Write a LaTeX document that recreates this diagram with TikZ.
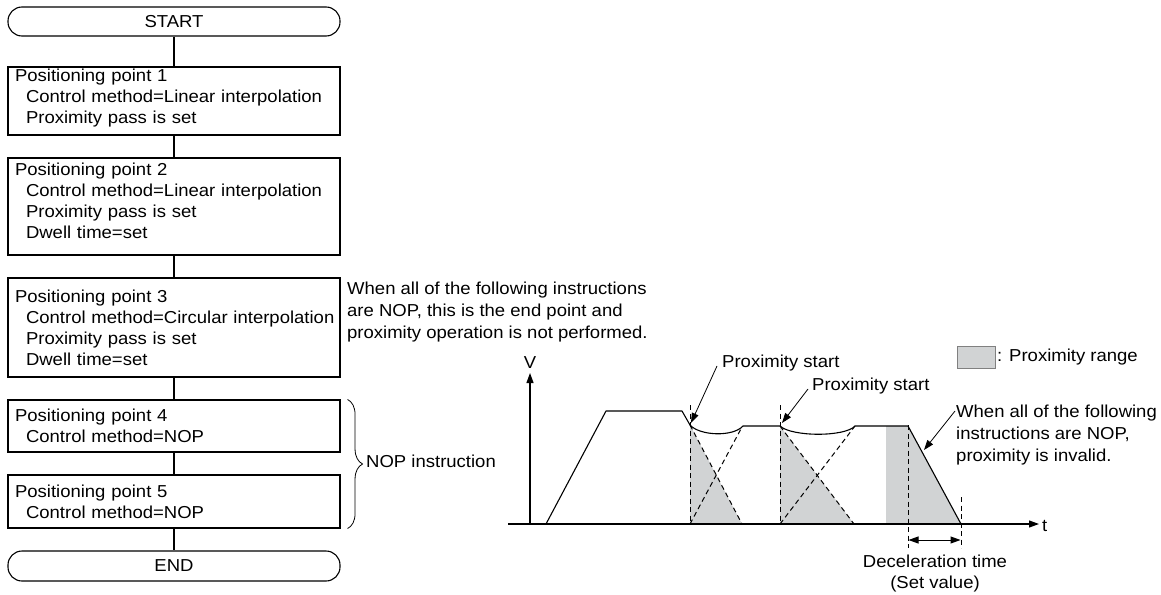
\documentclass[tikz,border=0pt]{standalone}
\usepackage{fontspec}
\setmainfont{Liberation Sans}[FakeStretch=1.07]
\usetikzlibrary{arrows.meta,decorations.pathreplacing}
\definecolor{prox}{RGB}{209,211,212}
\newcommand{\subline}[1]{\hspace*{11pt}\mbox{#1}}
\newcommand{\fsz}{\fontsize{17.3}{21}\selectfont}
\newcommand{\fsa}{\fontsize{17.3}{22}\selectfont}
\begin{document}
\begin{tikzpicture}[x=1pt,y=-1pt,
  every node/.style={font=\fsz},
  box/.style={draw, line width=1.1pt, rectangle, minimum width=332pt, text width=318pt, inner xsep=7pt, inner ysep=0pt, align=left},
  term/.style={draw, line width=1.1pt, rectangle, rounded corners=14pt, minimum width=332pt, inner sep=0pt},
  flow/.style={line width=1.1pt},
  curve/.style={line width=1.1pt},
  dsh/.style={line width=1pt, dash pattern=on 5pt off 3.5pt},
  tip/.style={-{Triangle[length=10pt,width=7pt]}},
  lead/.style={line width=0.8pt, -{Triangle[length=10pt,width=7pt]}},
  txt/.style={inner sep=0pt, align=left}]
\useasboundingbox (0,0) rectangle (1161,594);

% ---------- flowchart ----------
\node[term, minimum height=29pt] (start) at (174,21.5) {START};
\node[box, minimum height=68pt] (p1) at (174,101) {Positioning point 1\\\subline{Control method=Linear interpolation}\\\subline{Proximity pass is set\rule[-9pt]{0pt}{1pt}}};
\node[box, minimum height=97pt] (p2) at (174,206.5) {Positioning point 2\\\subline{Control method=Linear interpolation}\\\subline{Proximity pass is set}\\\subline{Dwell time=set\rule[-12pt]{0pt}{1pt}}};
\node[box, minimum height=99pt] (p3) at (174,327.5) {Positioning point 3\\\subline{Control method=Circular interpolation}\\\subline{Proximity pass is set}\\\subline{Dwell time=set}};
\node[box, minimum height=52pt] (p4) at (174,426) {Positioning point 4\\\subline{Control method=NOP}};
\node[box, minimum height=53pt] (p5) at (174,501.5) {Positioning point 5\\\subline{Control method=NOP}};
\node[term, minimum height=30pt] (end) at (174,566) {END};

\draw[flow] (start) -- (p1);
\draw[flow] (p1) -- (p2);
\draw[flow] (p2) -- (p3);
\draw[flow] (p3) -- (p4);
\draw[flow] (p4) -- (p5);
\draw[flow] (p5) -- (end);

\draw[line width=0.8pt, decorate, decoration={brace, amplitude=15pt}]
  ([xshift=7pt]p4.north east) -- ([xshift=7pt]p5.south east);
\node[txt, anchor=west] (nop) at (366,461.5) {NOP instruction};

\node[txt, anchor=west, font=\fsa] (endnote) at (347,312) {When all of the following instructions\\are NOP, this is the end point and\\proximity operation is not performed.};

% ---------- graph ----------
\coordinate (vb) at (530,524);
\coordinate (vt) at (530,373);
\coordinate (tl) at (508,524);
\coordinate (tr) at (1039,524);

% shading
\fill[prox] (690,425) -- (690,524) -- (742,524) -- cycle;
\fill[prox] (780,426) -- (780,524) -- (854,524) -- cycle;
\fill[prox] (886,426) -- (908,426) -- (961,524) -- (886,524) -- cycle;

% dashed
\draw[dsh] (690,405) -- (690,524);
\draw[dsh] (690,425) -- (742,524);
\draw[dsh] (690,524) -- (742,427);
\draw[dsh] (780,405) -- (780,524);
\draw[dsh] (780,426) -- (854,524);
\draw[dsh] (780,524) -- (855,426);
\draw[dsh] (908,425) -- (908,548);
\draw[dsh] (961,497) -- (961,548);

% axes
\draw[curve, tip] (vb) -- (vt);
\draw[curve, tip] (tl) -- (tr);
\node[inner sep=0pt] (vlab) at (530,362.5) {V};
\node[inner sep=0pt, anchor=west] (tlab) at (1042,526) {t};

% profile
\draw[curve, line join=round] (546,524) -- (606,411) -- (682,411) -- (690,425)
  .. controls (700,436) and (733,437) .. (743,426) -- (780,426)
  .. controls (792,437) and (845,437) .. (855,426) -- (908,426) -- (961,524);

% deceleration time
\coordinate (d1) at (908.5,540);
\coordinate (d2) at (960.5,540);
\draw[line width=1pt, {Triangle[length=10pt,width=7pt]}-{Triangle[length=10pt,width=7pt]}] (d1) -- (d2);
\node[inner sep=0pt, align=center] (dec) at (935,574) {Deceleration time\\(Set value)};

% annotations
\node[txt, anchor=west] (ps1) at (722,363.5) {Proximity start};
\coordinate (a1s) at (717,366);
\coordinate (a1e) at (691,423);
\draw[lead] (a1s) -- (a1e);

\node[txt, anchor=west] (ps2) at (812,386) {Proximity start};
\coordinate (a2s) at (808,389);
\coordinate (a2e) at (782,423);
\draw[lead] (a2s) -- (a2e);

\node[txt, anchor=west, font=\fsa] (inv) at (956,435) {When all of the following\\instructions are NOP,\\proximity is invalid.};
\coordinate (a3s) at (955,411);
\coordinate (a3e) at (924,450);
\draw[lead] (a3s) -- (a3e);

% legend
\node[draw=gray, line width=0.8pt, fill=prox, minimum width=38pt, minimum height=22pt, inner sep=0pt] (leg) at (976,357) {};
\node[txt, anchor=west] (legt) at (997,357.5) {: Proximity range};
\end{tikzpicture}
\end{document}
